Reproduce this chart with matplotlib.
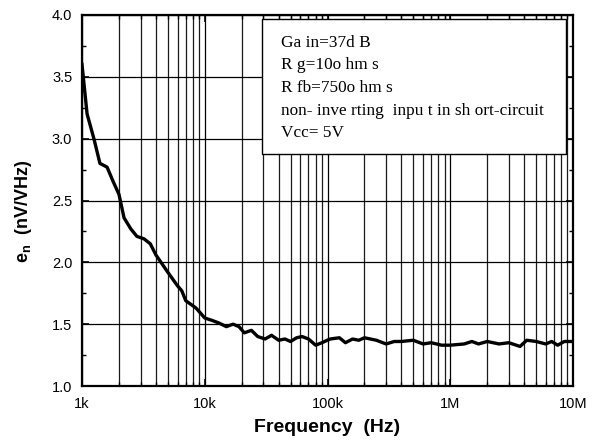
import matplotlib
matplotlib.use('Agg')
import matplotlib.pyplot as plt
from matplotlib.ticker import LogLocator, NullFormatter, MultipleLocator

plt.rcParams['font.family'] = 'Liberation Sans'
plt.rcParams['mathtext.fontset'] = 'custom'
plt.rcParams['mathtext.rm'] = 'Liberation Sans'
plt.rcParams['mathtext.bf'] = 'Liberation Sans:bold'

# noise density
freq = [1000, 1100, 1250, 1400, 1600, 1800, 2000, 2200, 2500, 2800, 3200, 3600,
        4000, 5000, 6000, 6500, 7000, 8500, 10000, 11500, 13000, 15000, 17000,
        19000, 21000, 24000, 27000, 31000, 35000, 40000, 45000, 50000, 56000,
        62000, 70000, 80000, 90000, 105000, 125000, 140000, 160000, 180000,
        200000, 250000, 300000, 350000, 400000, 500000, 600000, 700000, 850000,
        1000000, 1300000, 1500000, 1700000, 2000000, 2500000, 3000000, 3700000,
        4200000, 5000000, 6000000, 6700000, 7500000, 8500000, 10000000]
en = [3.60, 3.20, 3.00, 2.80, 2.77, 2.65, 2.55, 2.36, 2.27, 2.21, 2.19, 2.15,
      2.06, 1.92, 1.81, 1.77, 1.69, 1.63, 1.55, 1.53, 1.51, 1.48, 1.50,
      1.48, 1.43, 1.45, 1.40, 1.38, 1.41, 1.37, 1.38, 1.36, 1.39,
      1.40, 1.38, 1.33, 1.35, 1.38, 1.39, 1.35, 1.38, 1.37,
      1.39, 1.37, 1.34, 1.36, 1.36, 1.37, 1.34, 1.35, 1.33,
      1.33, 1.34, 1.36, 1.34, 1.36, 1.34, 1.35, 1.32,
      1.37, 1.36, 1.34, 1.36, 1.33, 1.36, 1.36]

xticks = [1e3, 1e4, 1e5, 1e6, 1e7]
xticklabels = ['1k', '10k', '100k', '1M', '10M']
yticks = [1.0, 1.5, 2.0, 2.5, 3.0, 3.5, 4.0]

notes = ['Ga in=37d B', 'R g=10o hm s', 'R fb=750o hm s',
         'non- inve rting  inpu t in sh ort-circuit', 'Vcc= 5V']

fig = plt.figure(figsize=(5.96, 4.43), dpi=100)
ax = fig.add_axes([82/596, 57/443, 491/596, 371/443])

ax.plot(freq, en, color='black', lw=2.4, zorder=3)
ax.set_xscale('log')
ax.set_xlim(1e3, 1e7)
ax.set_ylim(1.0, 4.0)

ax.set_xticks(xticks)
ax.set_xticklabels(xticklabels)
ax.xaxis.set_minor_locator(LogLocator(base=10, subs=range(2, 10)))
ax.xaxis.set_minor_formatter(NullFormatter())
ax.set_yticks(yticks)
ax.set_yticklabels(['%.1f' % v for v in yticks])
ax.yaxis.set_minor_locator(MultipleLocator(0.25))

ax.grid(True, which='major', axis='both', color='black', lw=0.9)
ax.grid(True, which='minor', axis='x', color='#1a1a1a', lw=0.9)

ax.tick_params(which='both', direction='in', top=True, right=True, labelsize=10.5)
ax.tick_params(which='major', length=5, width=1.2)
ax.tick_params(which='minor', length=3, width=1)
ax.tick_params(axis='x', pad=8)
ax.tick_params(axis='y', pad=7)
for s in ax.spines.values():
    s.set_linewidth(1.6)

ax.set_xlabel('Frequency  (Hz)', fontsize=14, fontweight='bold')
ax.xaxis.set_label_coords(0.5, -0.088)
ax.set_ylabel(r'$\mathbf{e_n}$  (nV/VHz)', fontsize=13, fontweight='bold')
ax.yaxis.set_label_coords(-0.098, 0.47)

box = plt.Rectangle((0.367, 0.625), 0.619, 0.364, transform=ax.transAxes,
                    facecolor='white', edgecolor='black', lw=1.0, zorder=4)
ax.add_patch(box)
for i, line in enumerate(notes):
    ax.text(0.405, 0.925 - i * 0.061, line, transform=ax.transAxes,
            fontsize=12.4, family='Liberation Serif', va='center', zorder=5)

fig.savefig('out.png', dpi=100)
